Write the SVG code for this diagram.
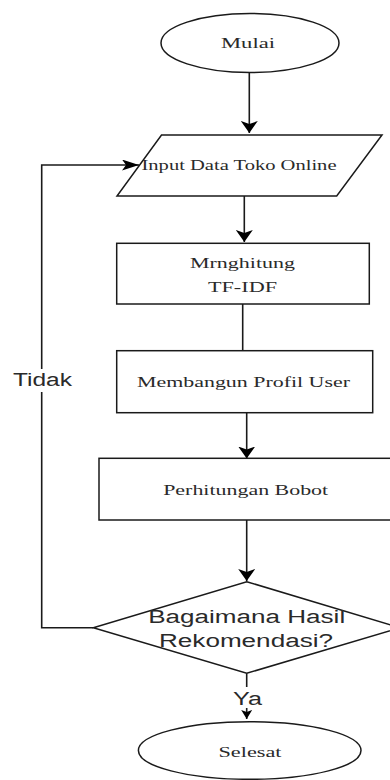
<svg xmlns="http://www.w3.org/2000/svg" width="390" height="780" viewBox="0 0 390 780">
<style>
.shape{fill:#fff;stroke:#1a1a1a;stroke-width:1.5}
.edge{fill:none;stroke:#1a1a1a;stroke-width:1.6}
.serif{font-family:"Liberation Serif","Times New Roman",serif;font-size:14.5px;fill:#2a2a2a;text-anchor:middle}
.sans{font-family:"Liberation Sans",Arial,sans-serif;font-size:18px;fill:#2a2a2a;text-anchor:middle}
</style>
<defs>
<marker id="arrV" viewBox="0 0 12 17" refX="12" refY="8.5" markerWidth="12" markerHeight="17" markerUnits="userSpaceOnUse" orient="auto">
<path d="M0,0 L12,8.5 L0,17 L3,8.5 z" fill="#000"/>
</marker>
<marker id="arrH" viewBox="0 0 17 11" refX="17" refY="5.5" markerWidth="17" markerHeight="11" markerUnits="userSpaceOnUse" orient="auto">
<path d="M0,0 L17,5.5 L0,11 L4,5.5 z" fill="#000"/>
</marker>
<marker id="arrS" viewBox="0 0 9 11" refX="9" refY="5.5" markerWidth="9" markerHeight="11" markerUnits="userSpaceOnUse" orient="auto">
<path d="M0,0 L9,5.5 L0,11 L2,5.5 z" fill="#000"/>
</marker>
</defs>

<g id="connectors">
<path class="edge" d="M249.3,72 V133" marker-end="url(#arrV)"/>
<path class="edge" d="M244.3,196 V242" marker-end="url(#arrV)"/>
<path class="edge" d="M242.7,304 V351"/>
<path class="edge" d="M246.7,413 V458.5" marker-end="url(#arrV)"/>
<path class="edge" d="M246.7,520 V581" marker-end="url(#arrV)"/>
<path class="edge" d="M93.3,627.7 H41.7 V165 H139" marker-end="url(#arrH)"/>
<path class="edge" d="M246.7,673.3 V687"/>
<path class="edge" d="M246.7,708 V719" marker-end="url(#arrS)"/>
<rect x="10" y="369" width="64" height="23" fill="#fff"/>
<text class="sans" x="42.5" y="386" font-size="17" textLength="59" lengthAdjust="spacingAndGlyphs">Tidak</text>
<text class="sans" x="247.5" y="704.5" textLength="29" lengthAdjust="spacingAndGlyphs">Ya</text>
</g>

<g id="mulai">
<ellipse class="shape" cx="250" cy="43" rx="89" ry="29.5"/>
<text class="serif" x="248" y="48" textLength="54" lengthAdjust="spacingAndGlyphs">Mulai</text>
</g>

<g id="input">
<polygon class="shape" points="161.5,135 382,135 336.7,196 117,196"/>
<text class="serif" x="239" y="170" textLength="195" lengthAdjust="spacingAndGlyphs">Input Data Toko Online</text>
</g>

<g id="tfidf">
<rect class="shape" x="116.7" y="243.3" width="252.6" height="60.7"/>
<text class="serif" x="242.5" y="268" textLength="105" lengthAdjust="spacingAndGlyphs">Mrnghitung</text>
<text class="serif" x="242.5" y="292" textLength="69" lengthAdjust="spacingAndGlyphs">TF-IDF</text>
</g>

<g id="profil">
<rect class="shape" x="116.7" y="350.7" width="256" height="62"/>
<text class="serif" x="243.5" y="386.5" textLength="213" lengthAdjust="spacingAndGlyphs">Membangun Profil User</text>
</g>

<g id="bobot">
<rect class="shape" x="99" y="458.3" width="294" height="61.7"/>
<text class="serif" x="245.7" y="495" textLength="165" lengthAdjust="spacingAndGlyphs">Perhitungan Bobot</text>
</g>

<g id="keputusan">
<polygon class="shape" points="246.7,581.7 400,627.7 246.7,673.3 93.3,627.7"/>
<text class="sans" x="246.7" y="623" textLength="197" lengthAdjust="spacingAndGlyphs">Bagaimana Hasil</text>
<text class="sans" x="246" y="646.5" textLength="174" lengthAdjust="spacingAndGlyphs">Rekomendasi?</text>
</g>

<g id="selesai">
<ellipse class="shape" cx="249.7" cy="750.5" rx="111.3" ry="28.8"/>
<text class="serif" x="250" y="756.5" textLength="63" lengthAdjust="spacingAndGlyphs">Selesat</text>
</g>
</svg>
